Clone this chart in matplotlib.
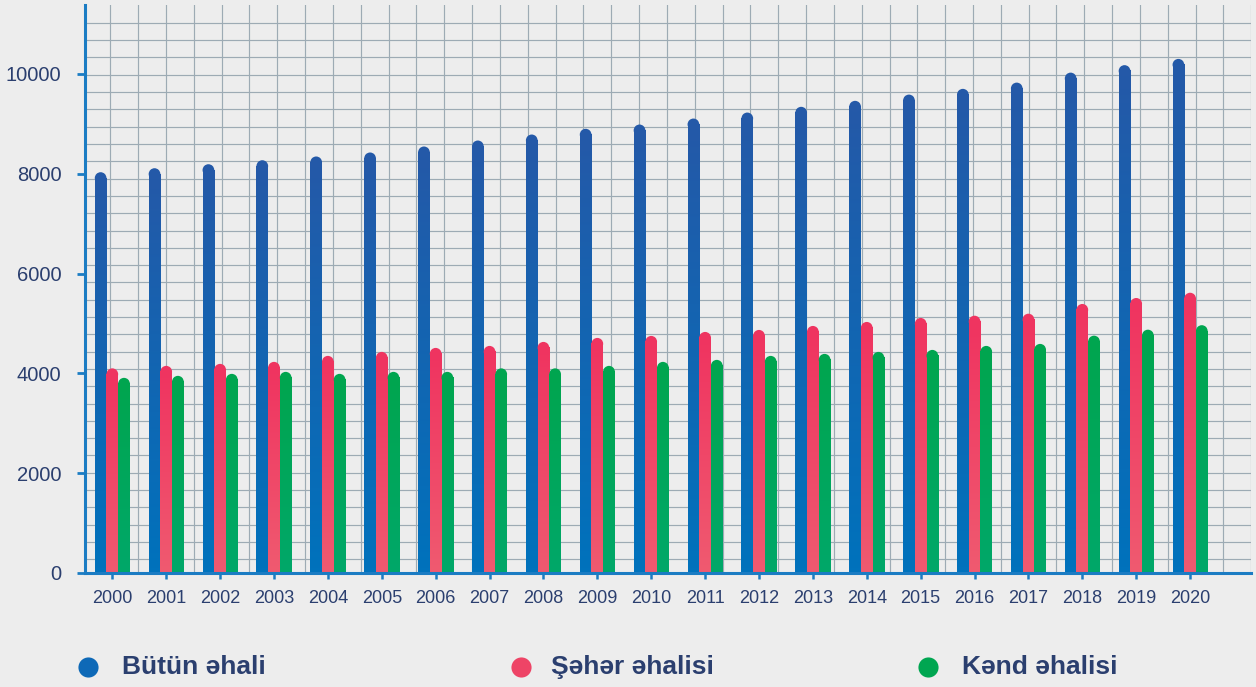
import numpy as np
import matplotlib
matplotlib.use("Agg")
import matplotlib.pyplot as plt
from matplotlib.patches import Ellipse
from matplotlib.colors import LinearSegmentedColormap
from matplotlib.lines import Line2D

years = ["2000", "2001", "2002", "2003", "2004", "2005", "2006", "2007", "2008", "2009",
         "2010", "2011", "2012", "2013", "2014", "2015", "2016", "2017", "2018", "2019", "2020"]
butun = [8030, 8110, 8190, 8270, 8345, 8425, 8545, 8665, 8785, 8900,
         8985, 9105, 9225, 9340, 9460, 9585, 9700, 9825, 10025, 10175, 10300]
seher = [4100, 4150, 4190, 4230, 4350, 4430, 4510, 4550, 4630, 4710,
         4750, 4830, 4870, 4950, 5030, 5110, 5155, 5195, 5390, 5510, 5615]
kend = [3910, 3950, 3990, 4030, 3990, 4030, 4030, 4100, 4100, 4150,
        4230, 4270, 4350, 4390, 4430, 4470, 4550, 4590, 4755, 4875, 4965]
series_labels = ["Bütün əhali", "Şəhər əhalisi", "Kənd əhalisi"]
yticks = [0, 2000, 4000, 6000, 8000, 10000]

# (top colour, bottom colour) per series
grad = [("#2459a8", "#0072bc"), ("#ef3460", "#f05a70"), ("#00a54f", "#00a869")]
legend_col = ["#0e69b7", "#ee4466", "#00a651"]

BG = "#ededed"
NAVY = "#2b3f6f"
AXBLUE = "#1b7cc3"
GRID = "#9dabb4"

W, H = 1256, 687
fig = plt.figure(figsize=(W / 100, H / 100), dpi=100, facecolor=BG)
ax = fig.add_axes([85 / W, 114 / H, 1166 / W, 568 / H])
ax.set_facecolor(BG)

xlim = (-0.507, 21.13)
ylim = (0, 11380)

# decorative grid
for gx in -0.037 + 0.5164 * np.arange(42):
    ax.axvline(gx, color=GRID, lw=0.85, zorder=0.5)
for gy in 274.5 + 346.7 * np.arange(32):
    ax.axhline(gy, color=GRID, lw=0.85, zorder=0.5)

x = np.arange(len(years))
bw = 0.217
px_per_x = 1166 / (xlim[1] - xlim[0])
px_per_y = 568 / (ylim[1] - ylim[0])
ry = (bw * px_per_x / 2) / px_per_y  # vertical radius of the rounded top in data units

for si, vals in enumerate([butun, seher, kend]):
    cmap = LinearSegmentedColormap.from_list("g%d" % si, [grad[si][1], grad[si][0]])
    offset = (si - 1) * bw
    for xi, v in zip(x, vals):
        xc = xi + offset
        top = v - ry
        g = np.linspace(0, 1, 64).reshape(-1, 1)
        ax.imshow(g, cmap=cmap, origin="lower", aspect="auto",
                  extent=(xc - bw / 2, xc + bw / 2, 0, top), zorder=2,
                  interpolation="bilinear")
        ax.add_patch(Ellipse((xc, top), bw, 2 * ry, facecolor=grad[si][0],
                             edgecolor="none", zorder=2))

ax.set_xlim(*xlim)
ax.set_ylim(*ylim)

for s in ["top", "right"]:
    ax.spines[s].set_visible(False)
ax.spines["left"].set_color(AXBLUE)
ax.spines["left"].set_linewidth(2.2)
ax.spines["bottom"].set_color(AXBLUE)
ax.spines["bottom"].set_linewidth(2.2)
ax.spines["left"].set_zorder(3)
ax.spines["bottom"].set_zorder(3)

ax.set_yticks(yticks)
ax.set_yticklabels([str(t) for t in yticks])
ax.set_xticks(x)
ax.set_xticklabels(years)
ax.tick_params(axis="y", length=6, width=2, color=AXBLUE, pad=11,
               labelsize=14.5, labelcolor=NAVY)
ax.tick_params(axis="x", length=4.5, width=1.8, color=AXBLUE, pad=8,
               labelsize=13, labelcolor=NAVY)
for lab in ax.get_xticklabels() + ax.get_yticklabels():
    lab.set_fontfamily("Liberation Sans")

# legend
mx = [88, 521, 928]
tx = [122, 551, 962]
ly = 1 - 667 / H
for i in range(3):
    fig.add_artist(Line2D([mx[i] / W], [ly], marker="o", markersize=14.5,
                          color=legend_col[i], markeredgewidth=0,
                          transform=fig.transFigure))
    fig.text(tx[i] / W, ly, series_labels[i], fontsize=19, fontweight="bold",
             color=NAVY, family="Liberation Sans", va="center", ha="left")

fig.savefig("out.png", dpi=100, facecolor=BG)
